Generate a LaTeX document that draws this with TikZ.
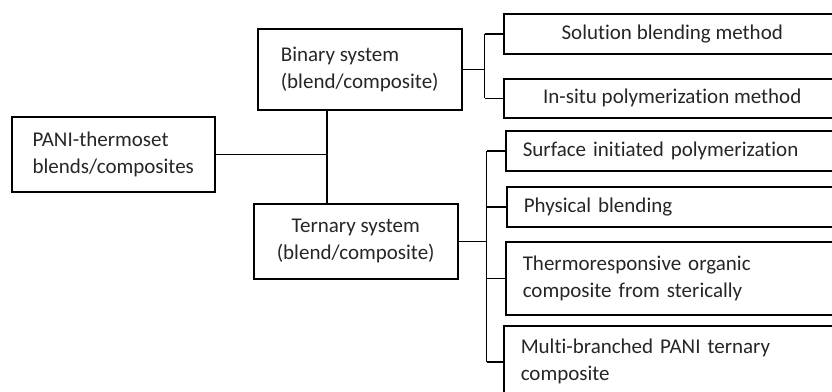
\documentclass[tikz,border=0pt]{standalone}
\usepackage{fontspec}
\setmainfont{Carlito}[Ligatures=NoCommon]
\tikzset{
  box/.style={draw, line width=1.5pt, anchor=north west, inner sep=0pt,
    text=black!85, font=\fontsize{21}{27}\selectfont},
  methodbox/.style={box, minimum width=337pt, minimum height=40pt},
  leftmethod/.style={methodbox, text width=303pt, inner xsep=17pt, align=left},
  link/.style={line width=1.5pt}
}

\begin{document}
\begin{tikzpicture}[x=1pt,y=-1pt]
\useasboundingbox (0,0) rectangle (832,391);
\clip (0,0) rectangle (832,391);

\node[box, minimum width=203pt, minimum height=75pt, align=left] (pani) at (11,116)
  {PANI-thermoset\\blends/composites};
\node[box, minimum width=204pt, minimum height=81pt, align=left] (binary) at (257,28)
  {Binary system\\(blend/composite)};
\node[box, minimum width=204pt, minimum height=75pt, align=center] (ternary) at (253,203)
  {Ternary system\\(blend/composite)};

\node[methodbox, align=center] (solution) at (503,13) {Solution blending method};
\node[methodbox, align=center, minimum height=39pt] (insitu) at (503,78) {In-situ polymerization method};

\node[leftmethod] (surface) at (505,130) {Surface initiated polymerization};
\node[leftmethod] (physical) at (506,186) {Physical blending};
\node[leftmethod, minimum height=73pt] (thermo) at (505,241)
  {Thermoresponsive organic\\composite from sterically};
\node[leftmethod, minimum height=72pt] (multi) at (503,325)
  {Multi-branched PANI ternary\\composite};

\coordinate (trunk) at (327,155);
\draw[link] (pani.east) -- (pani.east -| trunk);
\draw[link] (binary.south -| trunk) -- (ternary.north -| trunk);

\coordinate (bfork) at ([xshift=22pt]binary.east);
\draw[link] (binary.east) -- (bfork);
\draw[link] (bfork |- solution.west) -- (bfork |- insitu.west);
\foreach \m in {solution,insitu}
  \draw[link] (bfork |- \m.west) -- (\m.west);

\coordinate (tfork) at ([xshift=28pt]ternary.east);
\draw[link] (ternary.east) -- (tfork);
\draw[link] (tfork |- surface.west) -- (tfork |- multi.west);
\foreach \m in {surface,physical,thermo,multi}
  \draw[link] (tfork |- \m.west) -- (\m.west);
\end{tikzpicture}
\end{document}
